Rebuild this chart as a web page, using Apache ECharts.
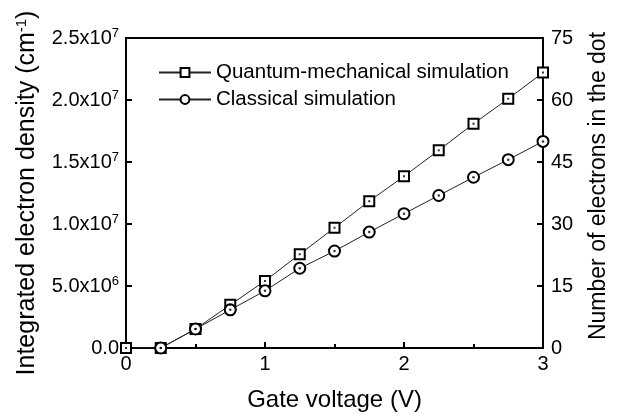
<!DOCTYPE html>
<html lang="en">
<head>
<meta charset="UTF-8" />
<title>Electron density</title>
<style>
  html, body { margin: 0; padding: 0; background: #fff; }
  #chart { width: 618px; height: 417px; }
</style>
</head>
<body>
<div id="chart"></div>
<script src="https://cdn.jsdelivr.net/npm/echarts@6/dist/echarts.min.js"></script>
<script>
// gate voltage (V)
const gateVoltage = [0, 0.25, 0.5, 0.75, 1.0, 1.25, 1.5, 1.75, 2.0, 2.25, 2.5, 2.75, 3.0];
// integrated electron density (cm^-1)
const quantum = [0, 0, 1.53e6, 3.48e6, 5.41e6, 7.56e6, 9.70e6, 11.84e6, 13.85e6, 15.94e6, 18.09e6, 20.10e6, 22.21e6];
const classical = [null, 0, 1.53e6, 3.08e6, 4.61e6, 6.43e6, 7.82e6, 9.35e6, 10.83e6, 12.30e6, 13.77e6, 15.19e6, 16.66e6];
const leftTicks = ['0.0', '5.0x10{s|6}', '1.0x10{s|7}', '1.5x10{s|7}', '2.0x10{s|7}', '2.5x10{s|7}'];

const FONT = 'Liberation Sans, Arial, sans-serif';
const pairs = (ys) => gateVoltage.map((x, i) => [x, ys[i]]).filter(p => p[1] !== null);

const chart = echarts.init(document.getElementById('chart'));

const supRich = {
  s: { fontSize: 13, verticalAlign: 'top', padding: [0, 0, 9, 0], color: '#000', fontFamily: FONT }
};

const markerStyle = { color: '#fff', borderColor: '#000', borderWidth: 2 };

chart.setOption({
  animation: false,
  textStyle: { fontFamily: FONT, color: '#000' },
  grid: {
    left: 126, right: 73, top: 38, bottom: 68,
    show: true, borderColor: '#000', borderWidth: 2
  },
  legend: {
    data: ['Quantum-mechanical simulation', 'Classical simulation'],
    orient: 'vertical',
    left: 153, top: 57,
    itemWidth: 52, itemHeight: 11, itemGap: 6,
    textStyle: { fontSize: 20.5, color: '#000', fontFamily: FONT }
  },
  xAxis: {
    type: 'value', min: 0, max: 3, interval: 1,
    name: 'Gate voltage (V)', nameLocation: 'middle', nameGap: 40,
    nameTextStyle: { fontSize: 24, color: '#000', fontFamily: FONT },
    axisLine: { lineStyle: { color: '#000', width: 2 } },
    axisTick: { inside: true, length: 6, lineStyle: { color: '#000', width: 2 } },
    minorTick: { show: true, splitNumber: 2, length: 4, lineStyle: { color: '#000', width: 2 } },
    axisLabel: { fontSize: 20, color: '#000', margin: 6, fontFamily: FONT },
    splitLine: { show: false }
  },
  yAxis: [{
    type: 'value', min: 0, max: 2.5e7, interval: 5e6, position: 'left',
    name: 'Integrated electron density (cm{s|-1})', nameLocation: 'middle', nameGap: 86,
    nameTextStyle: { fontSize: 25, color: '#000', fontFamily: FONT, rich: { s: { fontSize: 15, verticalAlign: 'top', padding: [0, 0, 11, 0], color: '#000', fontFamily: FONT } } },
    axisLine: { lineStyle: { color: '#000', width: 2 } },
    axisTick: { inside: true, length: 6, lineStyle: { color: '#000', width: 2 } },
    axisLabel: {
      fontSize: 20, color: '#000', margin: 7, fontFamily: FONT,
      formatter: (v) => leftTicks[Math.round(v / 5e6)],
      rich: supRich
    },
    splitLine: { show: false }
  }, {
    type: 'value', min: 0, max: 75, interval: 15, position: 'right',
    name: 'Number of electrons in the dot', nameLocation: 'middle', nameGap: 44,
    nameTextStyle: { fontSize: 23, color: '#000', fontFamily: FONT, padding: [0, 0, 0, 14] },
    axisLine: { lineStyle: { color: '#000', width: 2 } },
    axisTick: { inside: true, length: 6, lineStyle: { color: '#000', width: 2 } },
    axisLabel: { fontSize: 20, color: '#000', margin: 8, fontFamily: FONT },
    splitLine: { show: false }
  }],
  series: [{
    name: 'Quantum-mechanical simulation', type: 'line',
    data: pairs(quantum),
    symbol: 'rect', symbolSize: 10, showAllSymbol: true,
    lineStyle: { color: '#222', width: 1 },
    itemStyle: markerStyle, z: 3
  }, {
    name: 'Classical simulation', type: 'line',
    data: pairs(classical),
    symbol: 'circle', symbolSize: 11, showAllSymbol: true,
    lineStyle: { color: '#222', width: 1 },
    itemStyle: markerStyle, z: 3
  }, {
    name: 'qdot', type: 'scatter', data: pairs(quantum), silent: true,
    symbol: 'rect', symbolSize: 2, itemStyle: { color: '#000' }, z: 5
  }, {
    name: 'cdot', type: 'scatter', data: pairs(classical), silent: true,
    symbol: 'circle', symbolSize: 2.5, itemStyle: { color: '#000' }, z: 5
  }]
});
</script>
</body>
</html>
